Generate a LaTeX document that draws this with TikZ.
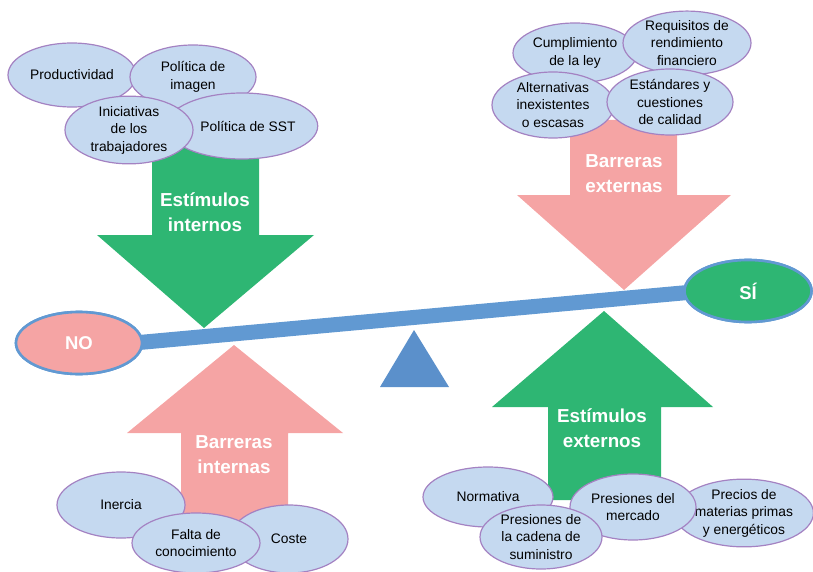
\documentclass[tikz,border=0pt]{standalone}
\usepackage{fontspec}
\setmainfont{Liberation Sans}
\usetikzlibrary{shapes.geometric}
\definecolor{grn}{HTML}{2EB673}
\definecolor{pnk}{HTML}{F5A4A4}
\definecolor{beamblue}{HTML}{6199D2}
\definecolor{triblue}{HTML}{5B90CB}
\definecolor{ellfill}{HTML}{C5D9F0}
\definecolor{ellborder}{HTML}{A482C2}
\tikzset{
  ell/.style={ellipse, draw=ellborder, fill=ellfill, line width=1.2pt, inner sep=0pt,
    align=center, text=black, font=\fontsize{13.8}{17.5}\selectfont},
  lbl/.style={text=white, align=center, font=\bfseries\fontsize{18.8}{25}\selectfont},
  pole/.style={ellipse, draw=beamblue, line width=2.6pt, inner sep=0pt, text=white,
    font=\bfseries\fontsize{18.5}{22}\selectfont},
  beam/.style={draw=beamblue, line width=15pt}
}
\begin{document}
\begin{tikzpicture}[x=1pt,y=-1pt]
\useasboundingbox (0,0) rectangle (813,572);
% arrows
\fill[grn] (152,140) -- (259,140) -- (259,235) -- (314,235) -- (204,328) -- (97,235) -- (152,235) -- cycle;
\fill[pnk] (570,120) -- (677,120) -- (677,195) -- (731,195) -- (624,290) -- (517,195) -- (570,195) -- cycle;
\fill[pnk] (181,540) -- (288,540) -- (288,433) -- (343,433) -- (234,345) -- (127,433) -- (181,433) -- cycle;
\fill[grn] (548,500) -- (661,500) -- (661,407) -- (713,407) -- (604,311) -- (492,407) -- (548,407) -- cycle;
\node[lbl] (lei) at (205,212) {Estímulos\\internos};
\node[lbl] (lbe) at (624,174) {Barreras\\externas};
\node[lbl] (lbi) at (234,455) {Barreras\\internas};
\node[lbl] (lee) at (602,428) {Estímulos\\externos};
% balance
\fill[triblue] (380,387) -- (449,387) -- (414,330) -- cycle;
\node[pole, fill=pnk, minimum width=126pt, minimum height=62pt] (NO) at (79,343) {NO};
\node[pole, fill=grn, minimum width=127pt, minimum height=62pt] (SI) at (748,291) {SÍ};
\draw[beam] ([yshift=-5pt]NO.center) -- ([yshift=4pt]SI.center);
\node[pole, fill=pnk, minimum width=126pt, minimum height=62pt] at (79,343) {NO};
\node[pole, fill=grn, minimum width=127pt, minimum height=62pt] at (748,291) {SÍ};
% top-left
\node[ell, minimum width=128pt, minimum height=64pt] (e1) at (72,75) {Productividad};
\node[ell, minimum width=126pt, minimum height=64pt] (e2) at (193,77) {Política de\\imagen};
\node[ell, minimum width=124pt, minimum height=66pt] (e4) at (242,126) {\hspace*{12pt}Política de SST};
\node[ell, minimum width=128pt, minimum height=66pt] (e3) at (129,130) {Iniciativas\\de los\\trabajadores};
% top-right
\node[ell, minimum width=124pt, minimum height=60pt] (f1) at (575,53) {Cumplimiento\\de la ley};
\node[ell, minimum width=128pt, minimum height=62pt] (f2) at (687,43) {Requisitos de\\rendimiento\\financiero};
\node[ell, minimum width=122pt, minimum height=66pt] (f3) at (553,105) {Alternativas\\inexistentes\\o escasas};
\node[ell, minimum width=126pt, minimum height=66pt] (f4) at (670,102) {Estándares y\\cuestiones\\de calidad};
% bottom-left
\node[ell, minimum width=128pt, minimum height=66pt] (g1) at (121,505) {Inercia};
\node[ell, minimum width=118pt, minimum height=68pt] (g3) at (289,539) {Coste};
\node[ell, minimum width=128pt, minimum height=60pt] (g2) at (196,543) {Falta de\\conocimiento};
% bottom-right
\node[ell, minimum width=130pt, minimum height=60pt] (h1) at (488,497) {Normativa};
\node[ell, minimum width=132pt, minimum height=66pt] (h4) at (744,513) {Precios de\\materias primas\\y energéticos};
\node[ell, minimum width=126pt, minimum height=66pt] (h3) at (633,507) {Presiones del\\mercado};
\node[ell, minimum width=122pt, minimum height=64pt] (h2) at (541,537) {Presiones de\\la cadena de\\suministro};
\end{tikzpicture}
\end{document}
